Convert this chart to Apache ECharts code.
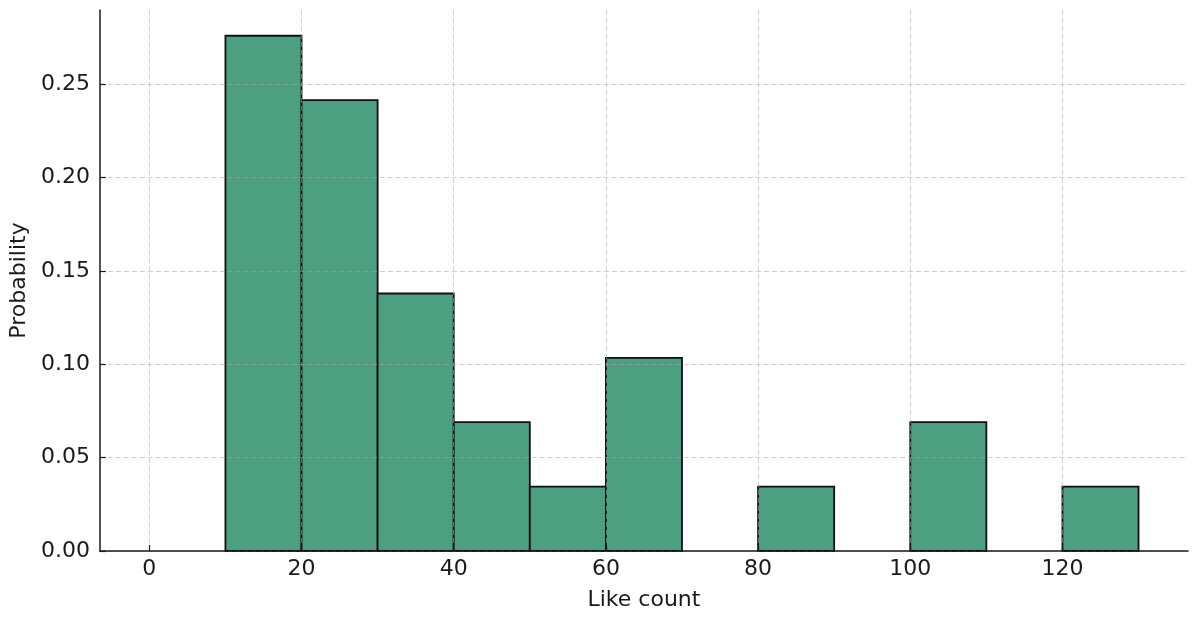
<!DOCTYPE html>
<html>
<head>
<meta charset="utf-8">
<script src="https://cdn.jsdelivr.net/npm/echarts@6/dist/echarts.min.js"></script>
<style>
html,body{margin:0;padding:0;background:#fff;}
#chart{width:1200px;height:617px;}
</style>
</head>
<body>
<div id="chart"></div>
<script>
// histogram bins (left edge, right edge) and probability per bin
var binStart = [0, 10, 20, 30, 40, 50, 60, 70, 80, 90, 100, 110, 120];
var binEnd   = [10, 20, 30, 40, 50, 60, 70, 80, 90, 100, 110, 120, 130];
var probs    = [0, 0.2759, 0.2414, 0.1379, 0.0690, 0.0345, 0.1034, 0, 0.0345, 0, 0.0690, 0, 0.0345];
var xTicks = [0, 20, 40, 60, 80, 100, 120];
var yTicks = [0, 0.05, 0.10, 0.15, 0.20, 0.25];

var data = [];
for (var i = 0; i < probs.length; i++) {
    data.push([binStart[i], binEnd[i], probs[i]]);
}

var myChart = echarts.init(document.getElementById('chart'));
var font = 'DejaVu Sans';
var option = {
    backgroundColor: '#fff',
    animation: false,
    grid: {left: 97, right: 12, top: 10, bottom: 66},
    xAxis: {
        type: 'value',
        min: -6.5,
        max: 136.5,
        z: 3,
        name: 'Like count',
        nameLocation: 'middle',
        nameGap: 38,
        nameTextStyle: {fontFamily: font, fontSize: 22, color: '#1a1a1a'},
        axisLine: {onZero: false, lineStyle: {color: '#1a1a1a', width: 1.5}},
        axisTick: {show: true, inside: true, length: 6, customValues: xTicks, lineStyle: {color: '#1a1a1a', width: 1.2}},
        axisLabel: {customValues: xTicks, margin: 7, fontFamily: font, fontSize: 22, color: '#1a1a1a'},
        splitLine: {show: true, lineStyle: {color: 'rgba(170,170,170,0.55)', type: [5, 3], width: 1}}
    },
    yAxis: {
        type: 'value',
        min: 0,
        max: 0.2897,
        z: 3,
        name: 'Probability',
        nameLocation: 'middle',
        nameGap: 65,
        nameTextStyle: {fontFamily: font, fontSize: 22, color: '#1a1a1a'},
        axisLine: {show: true, onZero: false, lineStyle: {color: '#1a1a1a', width: 1.5}},
        axisTick: {show: true, inside: true, length: 6, customValues: yTicks, lineStyle: {color: '#1a1a1a', width: 1.2}},
        axisLabel: {
            customValues: yTicks, margin: 10, fontFamily: font, fontSize: 22, color: '#1a1a1a',
            formatter: function (v) { return v.toFixed(2); }
        },
        splitLine: {show: true, lineStyle: {color: 'rgba(170,170,170,0.55)', type: [5, 3], width: 1}}
    },
    series: [{
        type: 'custom',
        z: 2,
        renderItem: function (params, api) {
            var h = api.value(2);
            if (h <= 0) return null;
            var p0 = api.coord([api.value(0), 0]);
            var p1 = api.coord([api.value(1), h]);
            return {
                type: 'rect',
                shape: {x: p0[0], y: p1[1], width: p1[0] - p0[0], height: p0[1] - p1[1]},
                style: {fill: '#4c9f80', stroke: '#111', lineWidth: 1.8}
            };
        },
        encode: {x: [0, 1], y: 2},
        data: data
    }]
};
myChart.setOption(option);
</script>
</body>
</html>
